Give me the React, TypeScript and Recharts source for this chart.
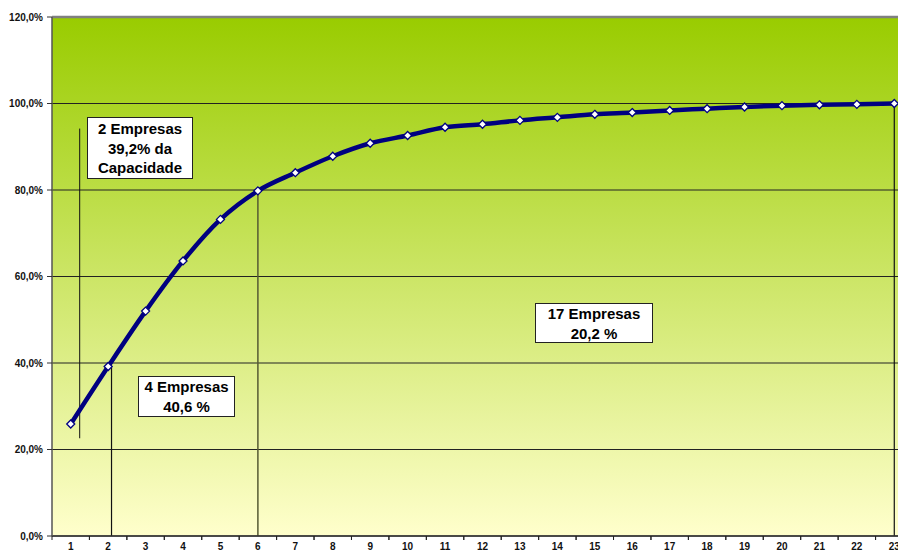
import React from "react";
import { LineChart, Line, XAxis, YAxis, CartesianGrid, ReferenceLine } from "recharts";

// empresas (1..23) e capacidade acumulada (%)
const empresas = [1, 2, 3, 4, 5, 6, 7, 8, 9, 10, 11, 12, 13, 14, 15, 16, 17, 18, 19, 20, 21, 22, 23];
const acumulado = [
    25.9, 39.2, 52.0, 63.6, 73.2, 79.8, 84.0, 87.8, 90.8, 92.6, 94.5, 95.2,
    96.1, 96.8, 97.5, 97.9, 98.4, 98.8, 99.2, 99.5, 99.7, 99.8, 100.0,
];
const yTicks = [0, 20, 40, 60, 80, 100, 120];

const data = empresas.map((e, i) => ({ empresa: e, valor: acumulado[i] }));

const CHART_W = 920;
const CHART_H = 553;
const MARGIN = { top: 17, right: 7, bottom: 0, left: 0 };
const Y_W = 52;
const X_H = 17;
const STEP = (CHART_W - MARGIN.right - MARGIN.left - Y_W) / empresas.length;

const FONT = "'Liberation Sans', Arial, sans-serif";

const fmtPct = (v: number) => v.toFixed(1).replace(".", ",") + "%";

const Diamond = (props: any) => {
    const { cx, cy } = props;
    if (cx == null || cy == null) return null;
    const r = 4;
    return (
        <path
            d={`M${cx},${cy - r} L${cx + r},${cy} L${cx},${cy + r} L${cx - r},${cy} Z`}
            fill="#ffffff"
            stroke="#000080"
            strokeWidth={1.3}
        />
    );
};

const XTick = (props: any) => {
    const { x, y, payload } = props;
    const axisY = y - 7;
    return (
        <g>
            <line x1={x - STEP / 2} y1={axisY} x2={x - STEP / 2} y2={axisY + 4} stroke="#222" />
            <line x1={x + STEP / 2} y1={axisY} x2={x + STEP / 2} y2={axisY + 4} stroke="#222" />
            <text
                x={x}
                y={y}
                dy="0.71em"
                textAnchor="middle"
                fontSize={10}
                fontWeight="bold"
                fill="#111"
                fontFamily={FONT}
            >
                {payload.value}
            </text>
        </g>
    );
};

const boxStyle: React.CSSProperties = {
    position: "absolute",
    background: "#ffffff",
    border: "1px solid #222",
    boxSizing: "border-box",
    fontFamily: FONT,
    fontWeight: "bold",
    fontSize: 15,
    lineHeight: "19.5px",
    textAlign: "center",
    color: "#000",
};

const App = () => {
    return (
        <div
            style={{
                position: "fixed",
                left: 0,
                top: 0,
                width: 898,
                height: 553,
                overflow: "hidden",
                background: "#fff",
            }}
        >
            <LineChart width={CHART_W} height={CHART_H} data={data} margin={MARGIN}>
                <defs>
                    <linearGradient id="fundo" x1="0" y1="0" x2="0" y2="1">
                        <stop offset="0%" stopColor="#99cc00" />
                        <stop offset="100%" stopColor="#ffffcc" />
                    </linearGradient>
                </defs>
                <CartesianGrid
                    vertical={false}
                    stroke="#222"
                    strokeWidth={1}
                    fill="url(#fundo)"
                    fillOpacity={1}
                />
                <XAxis
                    dataKey="empresa"
                    type="number"
                    domain={[0.5, 23.5]}
                    ticks={empresas}
                    interval={0}
                    height={X_H}
                    tickLine={false}
                    tickSize={4}
                    tickMargin={3}
                    axisLine={{ stroke: "#333", strokeWidth: 1.5 }}
                    tick={<XTick />}
                />
                <YAxis
                    domain={[0, 120]}
                    ticks={yTicks}
                    width={Y_W}
                    tickSize={5}
                    tickMargin={4}
                    tickFormatter={fmtPct}
                    tickLine={{ stroke: "#333" }}
                    axisLine={{ stroke: "#555", strokeWidth: 1.5 }}
                    tick={{ fontSize: 10, fontWeight: "bold", fill: "#111", fontFamily: FONT }}
                />
                <ReferenceLine y={120} stroke="#808080" strokeWidth={2.5} />
                <ReferenceLine
                    segment={[{ x: 1.24, y: 22.6 }, { x: 1.24, y: 94.2 }]}
                    stroke="#111"
                    strokeWidth={1}
                />
                <ReferenceLine
                    segment={[{ x: 2.09, y: 0 }, { x: 2.09, y: 39.2 }]}
                    stroke="#111"
                    strokeWidth={1.2}
                />
                <ReferenceLine
                    segment={[{ x: 6, y: 0 }, { x: 6, y: 79.8 }]}
                    stroke="#555a33"
                    strokeWidth={1.5}
                />
                <ReferenceLine
                    segment={[{ x: 23, y: 0 }, { x: 23, y: 100 }]}
                    stroke="#111"
                    strokeWidth={1.2}
                />
                <Line
                    type="monotone"
                    dataKey="valor"
                    stroke="#000080"
                    strokeWidth={4.5}
                    dot={<Diamond />}
                    activeDot={false}
                    isAnimationActive={false}
                />
            </LineChart>
            <div style={{ ...boxStyle, left: 87, top: 117, width: 106, height: 62, paddingTop: 1 }}>
                2 Empresas
                <br />
                39,2% da
                <br />
                Capacidade
            </div>
            <div style={{ ...boxStyle, left: 138, top: 376, width: 97, height: 41 }}>
                4 Empresas
                <br />
                40,6 %
            </div>
            <div style={{ ...boxStyle, left: 535, top: 303, width: 118, height: 40 }}>
                17 Empresas
                <br />
                20,2 %
            </div>
        </div>
    );
};

export default App;
